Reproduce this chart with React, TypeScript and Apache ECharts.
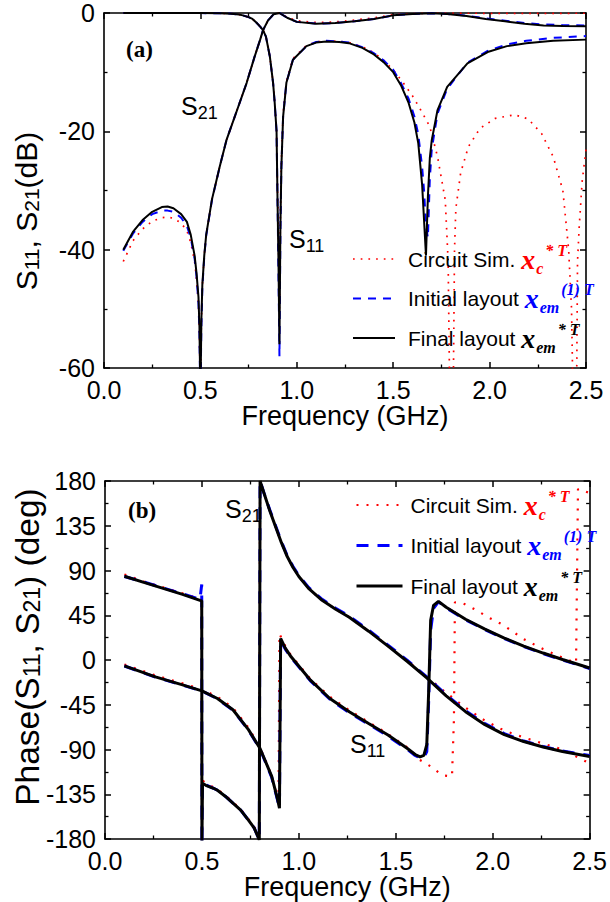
import React, { useEffect, useRef } from 'react';
import * as echarts from 'echarts';

const SANS = 'Liberation Sans, Arial, sans-serif';
const SERIF = 'Liberation Serif, Times New Roman, serif';

// ---------- (a) magnitude, dB ----------
const fS21a = [0.10,0.15,0.20,0.25,0.30,0.33,0.36,0.40,0.43,0.45,0.47,0.48,0.49,0.495,0.50,0.505,0.51,0.52,0.53,0.56,0.60,0.636,0.70,0.74,0.78,0.81,0.825,0.85,0.88,0.91,0.95,1.00,1.10,1.20,1.30,1.40,1.50,1.60,1.70,1.78,1.88,1.98,2.08,2.18,2.28,2.38,2.50];
const s21FinalDb = [-40,-37,-35,-33.6,-32.8,-32.7,-33,-34,-35.3,-37.5,-41,-44,-48,-53,-65,-52,-46,-41,-37.5,-31.5,-26,-21.4,-15.5,-11.8,-7.5,-4.5,-2.9,-1.3,-0.2,0,-0.8,-1.5,-1.8,-1.7,-1.4,-1.0,-0.4,-0.15,-0.05,-0.15,-0.5,-1.0,-1.4,-1.8,-2.1,-2.2,-2.25];
const s21InitialDb = [-40.2,-37.3,-35.3,-34,-33.4,-33.4,-33.6,-34.6,-36,-38,-41.5,-44.5,-49,-54,-66,-53,-46.5,-41.2,-37.6,-31.6,-26,-21.4,-15.5,-11.8,-7.5,-4.5,-2.9,-1.3,-0.2,0,-0.8,-1.5,-1.8,-1.7,-1.4,-1.0,-0.4,-0.15,-0.05,-0.15,-0.45,-0.9,-1.3,-1.7,-1.95,-2.05,-2.1];
const s21CircuitDb = [-42,-38.5,-36.5,-35.2,-34.6,-34.5,-34.7,-35.5,-36.8,-38.8,-42,-45,-49,-54,-66,-52,-46,-41,-37.5,-31.5,-26,-21.4,-15.5,-11.8,-7.5,-4.5,-2.9,-1.3,-0.2,0,-0.7,-1.3,-1.6,-1.5,-1.2,-0.8,-0.3,-0.1,-0.03,-0.03,-0.04,-0.05,-0.06,-0.06,-0.06,-0.05,-0.04];

const fS11a = [0.10,0.30,0.50,0.60,0.66,0.70,0.72,0.75,0.77,0.79,0.81,0.825,0.84,0.86,0.877,0.885,0.895,0.90,0.905,0.91,0.915,0.92,0.929,0.946,0.98,1.05,1.10,1.154,1.22,1.27,1.34,1.40,1.45,1.50,1.54,1.58,1.61,1.63,1.65,1.66,1.67,1.68,1.69,1.70,1.73,1.78,1.885,1.99,2.09,2.19,2.33,2.50];
const s11FinalDb = [-0.01,-0.01,-0.02,-0.05,-0.12,-0.25,-0.4,-0.7,-1.0,-1.6,-2.3,-2.9,-4.0,-7.3,-11.8,-15,-20,-31.6,-42,-56,-36,-26,-17.5,-11.8,-7.9,-5.6,-5.0,-4.8,-4.9,-5.1,-5.9,-7.0,-8.3,-10.0,-12.2,-15.2,-18.5,-22,-29,-35,-41,-31,-24.5,-21.5,-16.4,-12.5,-8.5,-6.6,-5.6,-5.1,-4.7,-4.5];
const s11InitialDb = [-0.01,-0.01,-0.02,-0.05,-0.12,-0.25,-0.4,-0.7,-1.0,-1.6,-2.3,-2.9,-4.0,-7.3,-11.8,-15,-20,-31.6,-44,-58,-37,-26,-17.5,-11.8,-7.9,-5.6,-4.9,-4.7,-4.8,-5.0,-5.8,-6.8,-8.0,-9.6,-11.8,-14.5,-17.5,-20.5,-26,-30,-36,-38,-28,-23,-17,-12.8,-8.4,-6.4,-5.3,-4.7,-4.2,-3.9];

const fS11c = [0.10,0.30,0.50,0.60,0.66,0.70,0.72,0.75,0.77,0.79,0.81,0.825,0.84,0.86,0.877,0.885,0.895,0.90,0.905,0.91,0.915,0.92,0.929,0.946,0.98,1.05,1.10,1.154,1.22,1.27,1.34,1.40,1.45,1.50,1.55,1.60,1.65,1.69,1.73,1.77,1.785,1.795,1.81,1.818,1.825,1.85,1.89,1.95,2.03,2.13,2.20,2.27,2.33,2.38,2.41,2.425,2.435,2.45,2.456,2.465,2.48,2.50];
const s11CircuitDb = [-0.01,-0.01,-0.02,-0.05,-0.12,-0.25,-0.4,-0.7,-1.0,-1.6,-2.3,-2.9,-4.0,-7.3,-11.8,-15,-20,-30,-38,-50,-34,-25,-17,-11.5,-7.7,-5.5,-4.9,-4.7,-4.8,-5.0,-5.7,-6.7,-8.0,-9.6,-11.7,-14,-16.8,-19.2,-24.3,-31.6,-42,-70,-70,-40,-33,-27,-22.6,-19.5,-17.8,-17.2,-17.9,-20.4,-24.3,-30,-40,-50,-70,-70,-42,-36,-28.5,-23];

// ---------- (b) phase, deg ----------
const fP21 = [0.10,0.20,0.30,0.40,0.49,0.499,0.500,0.503,0.52,0.56,0.58,0.62,0.66,0.70,0.74,0.77,0.796,0.800,0.82,0.85,0.88,0.91,0.94,0.97,1.00,1.05,1.12,1.19,1.26,1.36,1.46,1.56,1.66,1.76,1.86,1.96,2.06,2.16,2.26,2.36,2.50];
const p21Final = [84.2,78,72,66,60,59.5,-185,-124,-126,-129,-131,-137,-144,-151,-161,-169,-181,180,168,150,134,118,104,93,84,72,60,51,43,29,14,-1.5,-18,-36,-52,-65,-75,-82,-87.5,-92,-97];
const p21Initial = [84,78.5,72.5,66.5,61,76,-185,-123,-125.5,-129,-131,-137,-144,-151,-161,-169,-181,180,168,151,135,119,105,94,85,73,61,52,44,30,15,-0.5,-17,-35,-51,-64,-74,-81.5,-87,-91.5,-96];
const p21Circuit = [86,79,73,67,61.5,61,-185,-121,-124,-128,-130,-136,-143,-150,-160,-168,-181,180,168,150,134,118,104,93,84,72,60,51,43,29,14,-1,-17,-33,-48,-61,-71,-78,-84,-90,-104];

const fP11 = [0.10,0.26,0.40,0.50,0.58,0.66,0.74,0.80,0.86,0.89,0.90,0.906,0.93,0.96,1.06,1.16,1.26,1.36,1.46,1.56,1.60,1.625,1.645,1.66,1.67,1.68,1.695,1.72,1.76,1.86,1.96,2.06,2.16,2.26,2.36,2.50];
const p11Final = [-5.9,-17,-25,-31,-38.7,-50,-70,-89,-117,-140,-149,21.6,12,3.2,-20.3,-38.7,-52,-63.8,-75.5,-89,-95,-97.5,-96,-85,-30,40,55,59,53,41,31,22,14,7,0.5,-8];
const p11Initial = [-6,-17.2,-25.3,-31.2,-39,-50.5,-70.5,-89.5,-118,-141,-149,20,11,2.5,-21,-39.5,-53,-64.5,-76.5,-90,-96,-98.5,-98,-92,-40,30,52,58.5,52.5,40.5,30.5,21.5,13.5,6.5,0,-8.5];

const fP11c = [0.10,0.26,0.40,0.50,0.58,0.66,0.74,0.80,0.86,0.89,0.895,0.90,0.93,0.96,1.06,1.16,1.26,1.36,1.46,1.56,1.62,1.68,1.74,1.79,1.80,1.805,1.84,1.91,1.98,2.05,2.16,2.26,2.36,2.43,2.44,2.50];
const p11Circuit = [-4.5,-15.5,-23.5,-29.5,-37,-48,-68,-88,-116,-139,-146,26.4,14,4.5,-19,-37,-50.5,-62.5,-74.5,-88,-100,-107,-116,-117,-60,58,57.7,50.7,42.6,35.7,21,11,2.5,-3,172,168];

const legendNames = ['Circuit Sim.', 'Initial layout', 'Final layout'];

const RED = '#ff0000';
const BLUE = '#0000ff';
const BLACK = '#000000';

function pairs(f: number[], v: number[]) {
  return f.map((x, i) => [x, v[i]]);
}

function line(name: string, f: number[], v: number[], axis: number, color: string, width: number, type: any) {
  return {
    type: 'line',
    name,
    xAxisIndex: axis,
    yAxisIndex: axis,
    data: pairs(f, v),
    showSymbol: false,
    symbol: 'none',
    clip: true,
    lineStyle: { color, width, type },
    itemStyle: { color },
    emphasis: { disabled: true },
  };
}

function xAxisDef(grid: number, pos: 'top' | 'bottom', labels: boolean) {
  return {
    type: 'value',
    gridIndex: grid,
    position: pos,
    min: 0,
    max: 2.5,
    interval: 0.5,
    axisLine: { show: true, onZero: false, lineStyle: { color: '#000', width: 1.6 } },
    axisTick: { show: true, inside: true, length: 6, lineStyle: { color: '#000', width: 1.5 } },
    minorTick: { show: true, splitNumber: 2, length: 3.5, lineStyle: { color: '#000', width: 1.3 } },
    splitLine: { show: false },
    axisLabel: {
      show: labels,
      margin: 9,
      fontSize: 25,
      color: '#000',
      fontFamily: SANS,
      formatter: (v: number) => v.toFixed(1),
    },
    name: labels ? 'Frequency (GHz)' : '',
    nameLocation: 'middle',
    nameGap: 30,
    nameTextStyle: { fontSize: 27, color: '#000', fontFamily: SANS },
  };
}

function yAxisDef(grid: number, pos: 'left' | 'right', labels: boolean, min: number, max: number, interval: number) {
  return {
    type: 'value',
    gridIndex: grid,
    position: pos,
    min,
    max,
    interval,
    axisLine: { show: true, onZero: false, lineStyle: { color: '#000', width: 1.6 } },
    axisTick: { show: true, inside: true, length: 6, lineStyle: { color: '#000', width: 1.5 } },
    minorTick: { show: true, splitNumber: 2, length: 3.5, lineStyle: { color: '#000', width: 1.3 } },
    splitLine: { show: false },
    axisLabel: { show: labels, margin: 9, fontSize: 25, color: '#000', fontFamily: SANS },
  };
}

function legendRich(padLeft: number) {
  const base = { lineHeight: 34 };
  const xs = (color: string) => ({ ...base, fontFamily: SERIF, fontStyle: 'italic', fontWeight: 'bold', fontSize: 28, color });
  const sub = (color: string) => ({ ...base, fontFamily: SERIF, fontStyle: 'italic', fontWeight: 'bold', fontSize: 16, color, padding: [18, 0, 0, 1] });
  const sup = (color: string) => ({ ...base, fontFamily: SERIF, fontStyle: 'italic', fontWeight: 'bold', fontSize: 16, color, padding: [0, 0, 18, 2] });
  return {
    n: { ...base, fontFamily: SANS, fontSize: 21, color: '#000', padding: [0, 0, 0, padLeft] },
    xr: xs(RED), sr: sub(RED), pr: sup(RED),
    xb: xs(BLUE), sb: sub(BLUE), pb: sup(BLUE),
    xk: xs(BLACK), sk: sub(BLACK), pk: sup(BLACK),
  };
}

const legendText: Record<string, string> = {
  'Circuit Sim.': '{n|Circuit Sim. }{xr|x}{sr|c}{pr|* T}',
  'Initial layout': '{n|Initial layout }{xb|x}{sb|em}{pb|(1) T}',
  'Final layout': '{n|Final layout }{xk|x}{sk|em}{pk|* T}',
};

function legendDef(left: number, top: number, gap: number, itemWidth: number, padLeft: number, big: boolean) {
  const hide = { color: 'rgba(0,0,0,0)', borderWidth: 0, opacity: 0 };
  return {
    orient: 'vertical',
    left,
    top,
    padding: 0,
    itemGap: gap,
    itemWidth,
    itemHeight: 14,
    selectedMode: false,
    data: [
      { name: legendNames[0], lineStyle: { color: RED, width: big ? 2.2 : 1.7, type: big ? [2, 8] : [1.7, 6] }, itemStyle: hide },
      { name: legendNames[1], lineStyle: { color: BLUE, width: big ? 3 : 2, type: big ? [12, 9] : [8, 7] }, itemStyle: hide },
      { name: legendNames[2], lineStyle: { color: BLACK, width: big ? 3 : 2, type: 'solid' }, itemStyle: hide },
    ],
    formatter: (name: string) => legendText[name] || name,
    textStyle: { fontFamily: SANS, fontSize: 21, color: '#000', rich: legendRich(padLeft) },
  };
}

function subText(x: number, y: number, main: string, mSize: number, sSize: number, shift: number, rotation = 0) {
  return {
    type: 'text',
    x,
    y,
    rotation,
    silent: true,
    style: {
      text: main,
      rich: {
        m: { fontFamily: SANS, fontSize: mSize, fill: '#000', lineHeight: mSize + 6 },
        s: { fontFamily: SANS, fontSize: sSize, fill: '#000', lineHeight: mSize + 6, padding: [shift * 2, 0, 0, 0] },
      },
      align: rotation ? 'center' : 'left',
      verticalAlign: 'middle',
    },
  };
}

function buildOption() {
  const series = [
    // (a)
    line(legendNames[0], fS21a, s21CircuitDb, 0, RED, 1.7, [1.7, 6]),
    line(legendNames[0], fS11c, s11CircuitDb, 0, RED, 1.7, [1.7, 6]),
    line(legendNames[1], fS21a, s21InitialDb, 0, BLUE, 2, [8, 7]),
    line(legendNames[1], fS11a, s11InitialDb, 0, BLUE, 2, [8, 7]),
    line(legendNames[2], fS21a, s21FinalDb, 0, BLACK, 2, 'solid'),
    line(legendNames[2], fS11a, s11FinalDb, 0, BLACK, 2, 'solid'),
    // (b)
    line(legendNames[0], fP21, p21Circuit, 2, RED, 2.2, [2, 8]),
    line(legendNames[0], fP11c, p11Circuit, 2, RED, 2.2, [2, 8]),
    line(legendNames[1], fP21, p21Initial, 2, BLUE, 3, [12, 9]),
    line(legendNames[1], fP11, p11Initial, 2, BLUE, 3, [12, 9]),
    line(legendNames[2], fP21, p21Final, 2, BLACK, 3, 'solid'),
    line(legendNames[2], fP11, p11Final, 2, BLACK, 3, 'solid'),
  ];
  return {
    animation: false,
    backgroundColor: '#ffffff',
    textStyle: { fontFamily: SANS },
    grid: [
      { left: 104, top: 13, width: 482, height: 355, containLabel: false },
      { left: 105, top: 481, width: 486, height: 358, containLabel: false },
    ],
    xAxis: [
      xAxisDef(0, 'bottom', true),
      xAxisDef(0, 'top', false),
      xAxisDef(1, 'bottom', true),
      xAxisDef(1, 'top', false),
    ],
    yAxis: [
      yAxisDef(0, 'left', true, -60, 0, 20),
      yAxisDef(0, 'right', false, -60, 0, 20),
      yAxisDef(1, 'left', true, -180, 180, 45),
      yAxisDef(1, 'right', false, -180, 180, 45),
    ],
    legend: [
      legendDef(352, 242, 5.5, 42, 8, false),
      legendDef(355, 488, 6.5, 46, 3, true),
    ],
    series,
    graphic: [
      subText(26, 211, '{m|S}{s|11}{m|, S}{s|21}{m|(dB)}', 30, 21, 5, Math.PI / 2),
      subText(27, 647, '{m|Phase(S}{s|11}{m|, S}{s|21}{m|) (deg)}', 33.5, 23, 5, Math.PI / 2),
      subText(181, 106, '{m|S}{s|21}', 25, 18, 7),
      subText(289, 239, '{m|S}{s|11}', 25, 18, 7),
      subText(225, 509, '{m|S}{s|21}', 25, 18, 7),
      subText(350, 744, '{m|S}{s|11}', 25, 18, 7),
      {
        type: 'text', x: 126, y: 49, silent: true,
        style: { text: '(a)', fontFamily: SERIF, fontWeight: 'bold', fontSize: 23, fill: '#000', align: 'left', verticalAlign: 'middle' },
      },
      {
        type: 'text', x: 128, y: 510, silent: true,
        style: { text: '(b)', fontFamily: SERIF, fontWeight: 'bold', fontSize: 23, fill: '#000', align: 'left', verticalAlign: 'middle' },
      },
    ],
  };
}

export default function App() {
  const ref = useRef<HTMLDivElement>(null);
  useEffect(() => {
    document.body.style.margin = '0';
    const el = ref.current;
    if (!el) return;
    const chart = echarts.init(el, null, { renderer: 'svg' });
    chart.setOption(buildOption() as any);
    return () => chart.dispose();
  }, []);
  return <div ref={ref} style={{ position: 'fixed', left: 0, top: 0, width: 610, height: 902, background: '#fff' }} />;
}
